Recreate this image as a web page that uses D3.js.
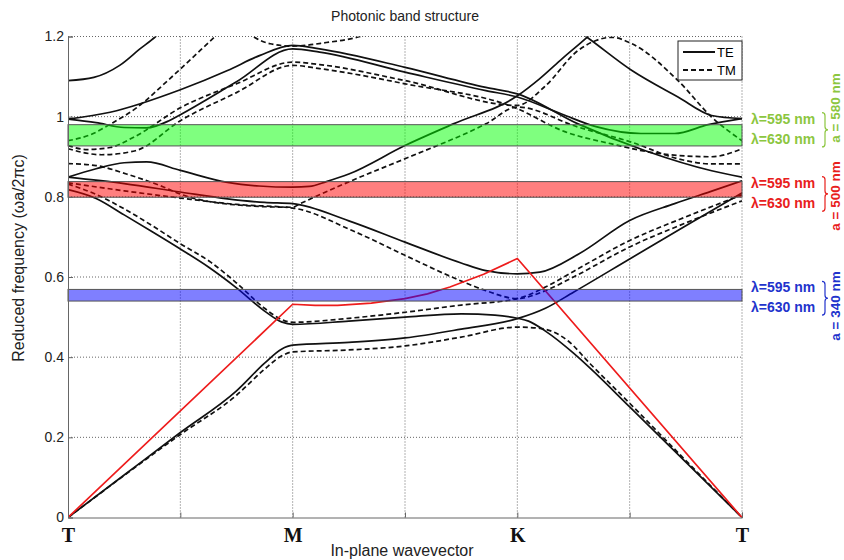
<!DOCTYPE html>
<html>
<head>
<meta charset="utf-8">
<script src="https://cdn.jsdelivr.net/npm/d3@7"></script>
<style>
  body { margin: 0; background: #fff; }
  svg { display: block; font-family: "Liberation Sans", Arial, sans-serif; }
</style>
</head>
<body>
<svg width="844" height="560"></svg>
<script>
// ---- data ----
var kTicks = [0, 1, 2, 3, 4, 5, 6];
var kLabels = ['T', '', 'M', '', 'K', '', 'T'];
var freqTicks = [0, 0.2, 0.4, 0.6, 0.8, 1, 1.2];

// TE bands (solid), [k, reduced frequency]
var teBands = [
  [[0,0],[0.5,0.106],[1,0.212],[1.5,0.316],[1.75,0.385],[1.9,0.42],[2,0.43],[2.5,0.437],[3,0.448],[3.5,0.47],[4,0.496],[4.25,0.522],[4.5,0.562],[5,0.645],[5.5,0.728],[6,0.81]],
  [[0,0.818],[0.25,0.796],[0.5,0.755],[0.75,0.713],[1,0.67],[1.25,0.625],[1.5,0.573],[1.75,0.515],[1.9,0.488],[2,0.482],[2.5,0.49],[3,0.5],[3.5,0.508],[3.8,0.505],[4,0.497],[4.1,0.49],[4.25,0.465],[4.5,0.41],[4.65,0.372],[5,0.276],[5.5,0.138],[6,0]],
  [[0,0.849],[0.5,0.833],[1,0.812],[1.42,0.795],[1.75,0.786],[2,0.783],[2.5,0.74],[3,0.687],[3.5,0.635],[3.72,0.616],[4,0.608],[4.2,0.612],[4.55,0.658],[5,0.741],[5.4,0.783],[5.75,0.816],[6,0.84]],
  [[0,0.849],[0.25,0.87],[0.5,0.885],[0.7,0.887],[1,0.866],[1.42,0.836],[1.7,0.827],[2,0.824],[2.15,0.826],[2.3,0.838],[2.5,0.857],[3,0.928],[3.43,0.982],[4,1.052],[4.2,1.095],[4.4,1.145],[4.62,1.198],[4.8,1.245]],
  [[0,0.994],[0.375,1.011],[1,1.067],[1.42,1.115],[1.71,1.153],[2,1.178],[2.24,1.169],[3,1.123],[3.72,1.073],[4,1.057],[4.54,0.982],[5.14,0.915],[5.73,0.865],[6,0.849]],
  [[0,0.994],[0.25,0.985],[0.5,0.973],[0.7,0.972],[0.9,0.99],[1,1.005],[1.5,1.087],[2,1.169],[2.24,1.161],[3,1.111],[3.72,1.065],[4,1.049],[4.4,1.006],[4.7,0.975],[5.1,0.958],[5.4,0.958],[5.7,0.98],[6,0.995]],
  [[0,1.09],[0.23,1.098],[0.46,1.128],[0.64,1.169],[0.78,1.2],[0.95,1.25]],
  [[4.35,1.25],[4.62,1.198],[5.02,1.115],[5.43,1.049],[5.73,1.003],[6,0.995]]
];

// TM bands (dashed)
var tmBands = [
  [[0,0],[1,0.207],[1.5,0.305],[1.75,0.37],[1.9,0.403],[2,0.413],[2.5,0.418],[3,0.428],[3.5,0.45],[4,0.475],[4.2,0.472],[4.45,0.441],[4.65,0.383],[5,0.285],[5.5,0.142],[6,0]],
  [[0,0.832],[0.25,0.806],[0.5,0.77],[0.75,0.728],[1,0.683],[1.27,0.637],[1.5,0.585],[1.75,0.522],[1.9,0.494],[2,0.487],[2.5,0.497],[3,0.512],[3.5,0.53],[4,0.546],[4.25,0.575],[4.5,0.614],[5,0.691],[5.5,0.75],[6,0.805]],
  [[0,0.835],[0.5,0.815],[1,0.797],[1.5,0.781],[2,0.772],[2.53,0.716],[3,0.654],[3.5,0.59],[3.72,0.566],[4,0.546],[4.25,0.566],[4.5,0.6],[5,0.675],[5.5,0.735],[6,0.79]],
  [[0,0.883],[0.25,0.878],[0.52,0.857],[0.82,0.828],[1,0.807],[1.42,0.782],[2,0.774],[2.06,0.782],[2.53,0.841],[3,0.895],[3.72,0.982],[4,1.024],[4.54,0.974],[5.02,0.936],[5.43,0.895],[5.73,0.882],[6,0.882]],
  [[0,0.928],[0.17,0.918],[0.375,0.923],[0.58,0.948],[1,1.022],[1.5,1.082],[2,1.136],[2.24,1.13],[3,1.09],[4,1.028],[4.24,1.074],[4.54,1.165],[4.7,1.19],[4.84,1.198],[5.02,1.182],[5.43,1.09],[5.73,0.999],[6,0.94]],
  [[0,0.92],[0.3,0.905],[0.6,0.915],[1,0.99],[1.5,1.06],[2,1.128],[2.24,1.12],[3,1.082],[4,1.02],[4.4,0.965],[4.84,0.932],[5.29,0.907],[5.73,0.9],[6,0.92]],
  [[0,0.94],[0.2,0.955],[0.4,0.985],[0.6,1.02],[0.9,1.093],[1.1,1.145],[1.33,1.205],[1.5,1.245]],
  [[1.5,1.24],[1.65,1.2],[1.8,1.182],[2,1.176],[2.3,1.185],[2.6,1.2],[2.8,1.22]]
];

// light line (red)
var lightLine = [[0,0],[2,0.532],[2.2,0.529],[2.4,0.529],[2.7,0.535],[3,0.546],[3.2,0.558],[3.4,0.575],[3.7,0.607],[4,0.646],[6,0]];

// wavelength windows for three lattice constants
var windowNames = ['a = 580 nm', 'a = 500 nm', 'a = 340 nm'];
var windowHi = [0.980, 0.838, 0.569];
var windowLo = [0.927, 0.799, 0.540];
var windowLambdas = ['\u03bb=595 nm', '\u03bb=630 nm'];

// ---- styles / layout ----
var bandFill = ['#00ff00', '#ff0000', '#0000ff'];
var labelColor = ['#8cc63f', '#e8201c', '#2233cc'];
var labelShift = [[-6, -7], [1, 6], [-2, 6]];   // px offsets of the two lambda labels
var nameCenter = [108, 196, 306];

var svg = d3.select('svg');
var margin = {left: 68, right: 742, top: 36.5, bottom: 517.5};

var x = d3.scaleLinear().domain([0, 6]).range([margin.left, margin.right]);
var y = d3.scaleLinear().domain([0, 1.2]).range([margin.bottom, margin.top]);

svg.append('defs').append('clipPath').attr('id', 'plotclip')
  .append('rect')
  .attr('x', margin.left).attr('y', margin.top)
  .attr('width', margin.right - margin.left)
  .attr('height', margin.bottom - margin.top);

// grid
var grid = svg.append('g').attr('class', 'grid');
grid.selectAll('line.v')
  .data(kTicks.slice(1))
  .enter().append('line')
  .attr('x1', d => x(d)).attr('x2', d => x(d))
  .attr('y1', margin.top).attr('y2', margin.bottom)
  .attr('stroke', '#666').attr('stroke-width', 1)
  .attr('stroke-dasharray', '1,2');
grid.selectAll('line.h')
  .data(freqTicks.slice(1))
  .enter().append('line')
  .attr('y1', d => y(d)).attr('y2', d => y(d))
  .attr('x1', margin.left).attr('x2', margin.right)
  .attr('stroke', '#666').attr('stroke-width', 1)
  .attr('stroke-dasharray', '1,2');

// band lines
var line = d3.line()
  .x(d => x(d[0]))
  .y(d => y(d[1]))
  .curve(d3.curveMonotoneX);

var plot = svg.append('g').attr('clip-path', 'url(#plotclip)');

plot.selectAll('path.te')
  .data(teBands)
  .enter().append('path')
  .attr('d', line)
  .attr('fill', 'none')
  .attr('stroke', '#111')
  .attr('stroke-width', 1.7);

plot.selectAll('path.tm')
  .data(tmBands)
  .enter().append('path')
  .attr('d', line)
  .attr('fill', 'none')
  .attr('stroke', '#111')
  .attr('stroke-width', 1.7)
  .attr('stroke-dasharray', '5,3');

plot.append('path')
  .datum(lightLine)
  .attr('d', d3.line().x(d => x(d[0])).y(d => y(d[1])))
  .attr('fill', 'none')
  .attr('stroke', '#ee1c1c')
  .attr('stroke-width', 1.7);

// wavelength windows, drawn over the bands
windowNames.forEach(function(name, i) {
  svg.append('rect')
    .attr('x', margin.left)
    .attr('y', y(windowHi[i]))
    .attr('width', margin.right - margin.left)
    .attr('height', y(windowLo[i]) - y(windowHi[i]))
    .attr('fill', bandFill[i])
    .attr('fill-opacity', 0.5)
    .attr('stroke', '#555')
    .attr('stroke-width', 1);

  var g = svg.append('g').attr('fill', labelColor[i])
    .style('font-weight', 'bold').style('font-size', '14px');
  var y1 = y(windowHi[i]) + labelShift[i][0];
  var y2 = y(windowLo[i]) + labelShift[i][1];
  g.append('text').attr('x', 751).attr('y', y1).attr('dy', '0.35em').text(windowLambdas[0]);
  g.append('text').attr('x', 751).attr('y', y2).attr('dy', '0.35em').text(windowLambdas[1]);

  // curly brace
  var bx = 822, w = 6, t = y1 - 6, b = y2 + 8, m = (t + b) / 2;
  var p = 'M' + bx + ',' + t +
    ' Q' + (bx + w / 2) + ',' + t + ' ' + (bx + w / 2) + ',' + (t + w / 2) +
    ' L' + (bx + w / 2) + ',' + (m - w / 2) +
    ' Q' + (bx + w / 2) + ',' + m + ' ' + (bx + w) + ',' + m +
    ' Q' + (bx + w / 2) + ',' + m + ' ' + (bx + w / 2) + ',' + (m + w / 2) +
    ' L' + (bx + w / 2) + ',' + (b - w / 2) +
    ' Q' + (bx + w / 2) + ',' + b + ' ' + bx + ',' + b;
  svg.append('path').attr('d', p).attr('fill', 'none')
    .attr('stroke', labelColor[i]).attr('stroke-width', 1.2);

  svg.append('text')
    .attr('transform', 'translate(839.5,' + nameCenter[i] + ') rotate(-90)')
    .attr('text-anchor', 'middle')
    .attr('fill', labelColor[i])
    .style('font-weight', 'bold').style('font-size', '13.5px')
    .text(name);
});

// axes
var xAxis = svg.append('g').attr('transform', 'translate(0,' + margin.bottom + ')')
  .call(d3.axisBottom(x).tickValues(kTicks).tickSize(-5).tickFormat((d, i) => kLabels[i]));
xAxis.select('.domain').attr('stroke', '#666');
xAxis.selectAll('.tick line').attr('stroke', '#666');
xAxis.selectAll('.tick text')
  .attr('y', 10)
  .attr('fill', '#111')
  .style('font-family', '"Liberation Serif", "Times New Roman", serif')
  .style('font-weight', 'bold')
  .style('font-size', '20px');

var yAxis = svg.append('g').attr('transform', 'translate(' + margin.left + ',0)')
  .call(d3.axisLeft(y).tickValues(freqTicks).tickSize(-5).tickFormat(d3.format('~g')));
yAxis.select('.domain').attr('stroke', '#666');
yAxis.selectAll('.tick line').attr('stroke', '#666');
yAxis.selectAll('.tick text')
  .attr('x', -4)
  .attr('fill', '#222')
  .style('font-size', '14px');

// legend
var lg = svg.append('g').attr('transform', 'translate(678,41)');
lg.append('rect').attr('width', 64).attr('height', 39)
  .attr('fill', '#fff').attr('stroke', '#222').attr('stroke-width', 1);
lg.append('line').attr('x1', 5).attr('x2', 37).attr('y1', 11).attr('y2', 11)
  .attr('stroke', '#111').attr('stroke-width', 2);
lg.append('line').attr('x1', 5).attr('x2', 37).attr('y1', 29).attr('y2', 29)
  .attr('stroke', '#111').attr('stroke-width', 2).attr('stroke-dasharray', '5,3');
lg.append('text').attr('x', 39).attr('y', 11).attr('dy', '0.35em')
  .style('font-size', '13px').text('TE');
lg.append('text').attr('x', 39).attr('y', 29).attr('dy', '0.35em')
  .style('font-size', '13px').text('TM');

// titles
svg.append('text').attr('x', 405).attr('y', 21).attr('text-anchor', 'middle')
  .style('font-size', '14px').attr('fill', '#222').text('Photonic band structure');
svg.append('text').attr('x', 402).attr('y', 556).attr('text-anchor', 'middle')
  .style('font-size', '16px').attr('fill', '#222').text('In-plane wavevector');
svg.append('text')
  .attr('transform', 'translate(24,258) rotate(-90)')
  .attr('text-anchor', 'middle')
  .style('font-size', '16px').attr('fill', '#222')
  .text('Reduced frequency (\u03c9a/2\u03c0c)');
</script>
</body>
</html>
